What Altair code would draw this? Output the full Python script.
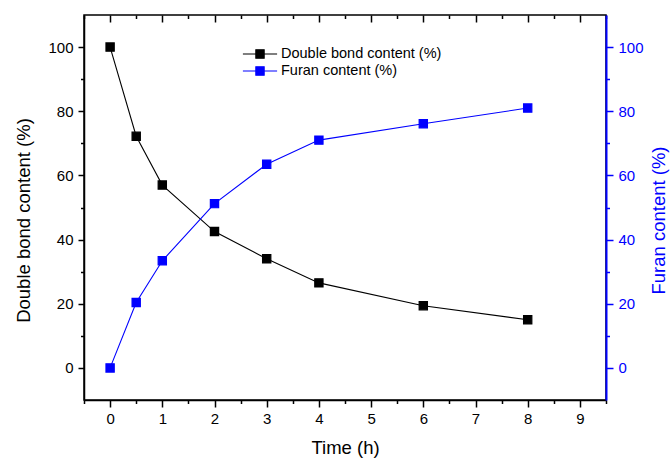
import altair as alt
import pandas as pd

time_h = [0, 0.5, 1, 2, 3, 4, 6, 8]
double_bond = [100, 72.2, 57, 42.5, 34, 26.5, 19.4, 15]
furan = [0, 20.4, 33.4, 51.2, 63.5, 71, 76.1, 81]
series_names = ["Double bond content (%)", "Furan content (%)"]
series_colors = ["#000000", "#0000FF"]

x_major = list(range(0, 10))
x_minor = [-0.5 + i for i in range(11)]
y_major = [0, 20, 40, 60, 80, 100]
y_minor = [10, 30, 50, 70, 90]

df = pd.DataFrame({
    "time": time_h * 2,
    "value": double_bond + furan,
    "series": [series_names[0]] * len(time_h) + [series_names[1]] * len(time_h),
})

FONT = "Liberation Sans"
xs = alt.Scale(domain=[-0.5, 9.5], nice=False, zero=False)


def ys():
    return alt.Scale(domain=[-10, 110], nice=False, zero=False)


def cs():
    return alt.Scale(domain=series_names, range=series_colors)


def leg():
    return alt.Legend(
        title=None,
        orient="none",
        legendX=166,
        legendY=29,
        labelFontSize=14.5,
        labelFont=FONT,
        labelColor="#000000",
        labelLimit=400,
        symbolType="M-1.9,0H1.9M-0.46,-0.46H0.46V0.46H-0.46Z",
        symbolSize=324,
        symbolStrokeWidth=1.2,
        rowPadding=0,
        labelOffset=11,
    )


base = alt.Chart(df)

lines = base.mark_line(strokeWidth=1.1).encode(
    x=alt.X("time:Q", scale=xs, axis=alt.Axis(
        orient="bottom", values=x_major, tickSize=7, grid=False,
        title="Time (h)", titleFontSize=18.5, titleFont=FONT, titleFontWeight="normal",
        titleColor="#000000", titlePadding=12,
        labelFontSize=15, labelFont=FONT, labelColor="#000000", labelPadding=4,
        domainColor="#000000", domainWidth=1.5, tickColor="#000000", tickWidth=1.5,
    )),
    y=alt.Y("value:Q", scale=ys(), axis=alt.Axis(
        orient="left", values=y_major, tickSize=6, grid=False,
        title="Double bond content (%)", titleFontSize=18.5, titleFont=FONT,
        titleFontWeight="normal", titleColor="#000000", titlePadding=14, titleY=205,
        labelFontSize=15, labelFont=FONT, labelColor="#000000", labelPadding=5,
        domainColor="#000000", domainWidth=1.5, tickColor="#000000", tickWidth=1.5,
    )),
    stroke=alt.Stroke("series:N", scale=cs(), legend=leg()),
)

points = base.mark_point(shape="square", filled=True, size=68, opacity=1, strokeWidth=1.2).encode(
    x=alt.X("time:Q", scale=xs, axis=None),
    y=alt.Y("value:Q", scale=ys(), axis=None),
    fill=alt.Fill("series:N", scale=cs(), legend=leg()),
    stroke=alt.Stroke("series:N", scale=cs(), legend=leg()),
)

minor_lb = base.mark_point(opacity=0).encode(
    x=alt.X("time:Q", scale=xs, axis=alt.Axis(
        orient="bottom", values=x_minor, tickSize=3.5, labels=False, domain=False,
        grid=False, title=None, tickColor="#000000", tickWidth=1.5)),
    y=alt.Y("value:Q", scale=ys(), axis=alt.Axis(
        orient="left", values=y_minor, tickSize=3.5, labels=False, domain=False,
        grid=False, title=None, tickColor="#000000", tickWidth=1.5)),
)

major_tr = base.mark_point(opacity=0).encode(
    x=alt.X("time:Q", scale=xs, axis=alt.Axis(
        orient="top", values=x_major, tickSize=7, offset=-7, labels=False,
        domain=False, grid=False, title=None, tickColor="#000000", tickWidth=1.5)),
    y=alt.Y("value:Q", scale=ys(), axis=alt.Axis(
        orient="right", values=y_major, tickSize=7, grid=False,
        title="Furan content (%)", titleAngle=270, titleFontSize=18.5, titleFont=FONT,
        titleFontWeight="normal", titleColor="#0000FF", titlePadding=25, titleY=205,
        labelFontSize=15, labelFont=FONT, labelColor="#0000FF", labelPadding=5,
        domainColor="#0000FF", domainWidth=2, tickColor="#0000FF", tickWidth=1.5)),
)

minor_tr = base.mark_point(opacity=0).encode(
    x=alt.X("time:Q", scale=xs, axis=alt.Axis(
        orient="top", values=x_minor, tickSize=3.5, offset=-3.5, labels=False,
        domain=False, grid=False, title=None, tickColor="#000000", tickWidth=1.5)),
    y=alt.Y("value:Q", scale=ys(), axis=alt.Axis(
        orient="right", values=y_minor, tickSize=3.5, labels=False, domain=False,
        grid=False, title=None, tickColor="#0000FF", tickWidth=1.5)),
)

chart = alt.layer(lines, points, minor_lb, major_tr, minor_tr).resolve_scale(
    y="independent"
).resolve_axis(
    x="independent", y="independent"
).properties(
    width=522,
    height=385,
    autosize=alt.AutoSizeParams(type="none"),
    padding={"left": 84, "top": 15, "right": 64, "bottom": 60},
    background="white",
).configure_view(
    stroke="#000000", strokeWidth=1.5
)

chart.save("out.html", embed_options={"renderer": "svg", "actions": False})
